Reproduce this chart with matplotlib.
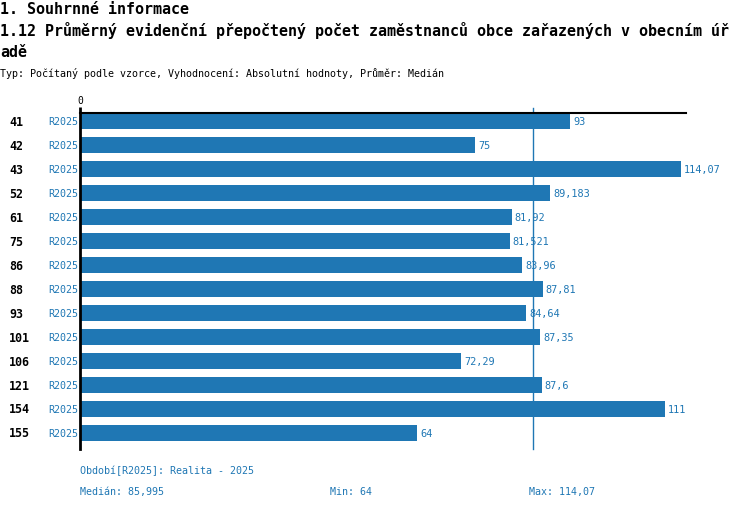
import matplotlib
matplotlib.use("Agg")
import matplotlib.pyplot as plt
from matplotlib.transforms import blended_transform_factory

categories = ["41", "42", "43", "52", "61", "75", "86", "88", "93", "101", "106", "121", "154", "155"]
values = [93, 75, 114.07, 89.183, 81.92, 81.521, 83.96, 87.81, 84.64, 87.35, 72.29, 87.6, 111, 64]
series_label = "R2025"
median_value = 85.995
min_value = 64
max_value = 114.07

BLUE = "#1f77b4"
W, H = 750, 510
FONT = "DejaVu Sans Mono"
plt.rcParams["font.family"] = [FONT, "DejaVu Sans"]

fig = plt.figure(figsize=(W / 100, H / 100), dpi=100)

def fx(px):
    return px / W

def fy(py):
    return 1 - py / H

# Titles
fig.text(fx(0), fy(14), "1. Souhrnné informace", fontsize=10.8, fontweight="bold", va="baseline", ha="left")
fig.text(fx(0), fy(36), "1.12 Průměrný evidenční přepočtený počet zaměstnanců obce zařazených v obecním úř",
         fontsize=10.8, fontweight="bold", va="baseline", ha="left")
fig.text(fx(0), fy(57), "adě", fontsize=10.8, fontweight="bold", va="baseline", ha="left")
fig.text(fx(0), fy(77), "Typ: Počítaný podle vzorce, Vyhodnocení: Absolutní hodnoty, Průměr: Medián",
         fontsize=7.2, va="baseline", ha="left")

ax = fig.add_axes([fx(80), 60 / H, 606 / W, 336 / H])
n = len(categories)
ypos = list(range(n))
ax.barh(ypos, values, height=0.667, color=BLUE, zorder=2)
ax.set_xlim(0, 115)
ax.set_ylim(n - 1 + 16 / 24, -8 / 24)

for s in ["right", "bottom"]:
    ax.spines[s].set_visible(False)
ax.spines["top"].set_linewidth(1.5)
ax.spines["left"].set_linewidth(2)
ax.spines["top"].set_zorder(3)
ax.spines["left"].set_zorder(3)

ax.xaxis.tick_top()
ax.set_xticks([0])
ax.set_xticklabels(["0"], fontsize=7)
ax.tick_params(axis="x", length=4.5, width=2, pad=1)
ax.set_yticks([])

ax.axvline(median_value, ymin=0, ymax=1 + 5 / 336, clip_on=False, color=BLUE, lw=1, zorder=1)

def fmt(v):
    return f"{v:g}".replace(".", ",")

for y, v in zip(ypos, values):
    ax.annotate(fmt(v), (v, y), xytext=(2.2, 0), textcoords="offset points",
                va="center", ha="left", fontsize=7.4, color=BLUE)

tr = blended_transform_factory(fig.transFigure, ax.transData)
for y, c in zip(ypos, categories):
    ax.text(fx(9), y, c, transform=tr, fontsize=8.4, fontweight="bold", va="center", ha="left", color="black")
    ax.text(fx(48), y, series_label, transform=tr, fontsize=7.2, va="center", ha="left", color=BLUE)

fig.text(fx(80), fy(471), "Období[R2025]: Realita - 2025", fontsize=7.2, color=BLUE, va="center", ha="left")
fig.text(fx(80), fy(492), "Medián: " + fmt(median_value), fontsize=7.2, color=BLUE, va="center", ha="left")
fig.text(fx(330), fy(492), "Min: " + fmt(min_value), fontsize=7.2, color=BLUE, va="center", ha="left")
fig.text(fx(529), fy(492), "Max: " + fmt(max_value), fontsize=7.2, color=BLUE, va="center", ha="left")

fig.savefig("out.png", dpi=100)
